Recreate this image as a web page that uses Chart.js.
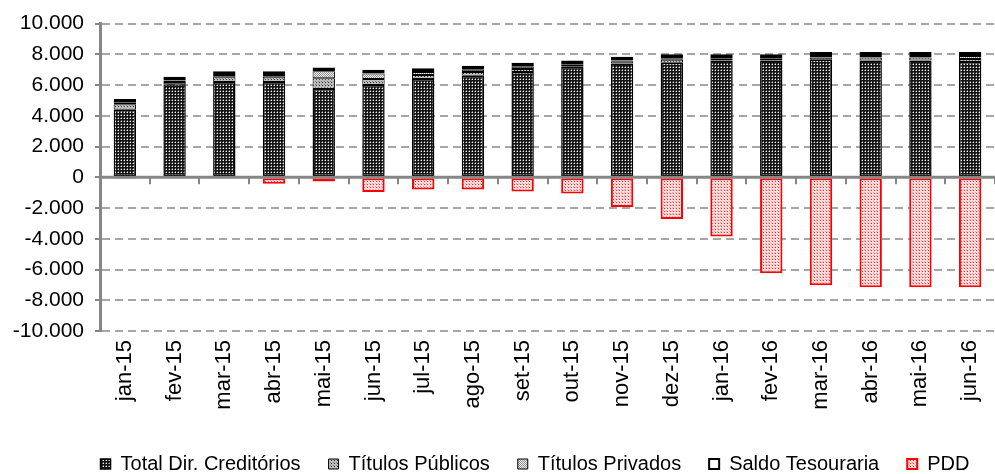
<!DOCTYPE html>
<html>
<head>
<meta charset="utf-8">
<script src="https://cdn.jsdelivr.net/npm/chart.js@4/dist/chart.umd.min.js"></script>
<style>
  html, body { margin: 0; padding: 0; background: #fff; }
  canvas { display: block; }
</style>
</head>
<body>
<canvas id="chart" width="995" height="474"></canvas>
<script>
// ---- Data (R$ mil) ----
const months = ['jan-15', 'fev-15', 'mar-15', 'abr-15', 'mai-15', 'jun-15', 'jul-15', 'ago-15', 'set-15',
  'out-15', 'nov-15', 'dez-15', 'jan-16', 'fev-16', 'mar-16', 'abr-16', 'mai-16', 'jun-16'];

const totalDirCreditorios = [4400, 6050, 6200, 6200, 5750, 6000, 6400, 6600, 6850, 7200, 7400, 7450, 7600, 7600, 7650, 7600, 7600, 7500];
const titulosPublicos     = [350, 150, 350, 350, 700, 400, 250, 250, 200, 100, 150, 200, 100, 100, 150, 200, 200, 200];
const titulosPrivados     = [100, 100, 100, 100, 450, 350, 200, 150, 150, 50, 50, 100, 50, 50, 100, 100, 100, 200];
const saldoTesouraria     = [250, 250, 250, 250, 250, 250, 250, 250, 250, 250, 250, 250, 250, 250, 250, 250, 250, 250];
const pdd                 = [-100, -80, -80, -420, -280, -950, -800, -800, -930, -1050, -1930, -2720, -3850, -6250, -7030, -7150, -7150, -7150];

const yTicks = { min: -10000, max: 10000, step: 2000 };

const FONT = "'Liberation Sans', Arial, sans-serif";

// ---- Fill patterns ----
function makePattern(size, bg, dots) {
  const c = document.createElement('canvas');
  c.width = size;
  c.height = size;
  const g = c.getContext('2d');
  g.fillStyle = bg;
  g.fillRect(0, 0, size, size);
  dots.forEach(([x, y, col]) => {
    g.fillStyle = col;
    g.fillRect(x, y, 1, 1);
  });
  return g.createPattern(c, 'repeat');
}

const patDark = makePattern(3, '#151515', [[1, 1, '#f0f0f0'], [1, 0, '#6a6a6a'], [0, 1, '#6a6a6a']]);
const patPublicos = makePattern(3, '#bdbdbd', [[1, 1, '#333'], [0, 0, '#7a7a7a']]);
const patPrivados = makePattern(2, '#f4f4f4', [[0, 0, '#8c8c8c'], [1, 1, '#8c8c8c']]);
const patPdd = makePattern(3, '#ffdcdc', [[1, 1, '#ff2020'], [0, 0, '#ff9a9a']]);

function fmt(v) {
  const s = String(Math.abs(v)).replace(/\B(?=(\d{3})+(?!\d))/g, '.');
  return (v < 0 ? '-' : '') + s;
}

// ---- Zero axis line with category tick marks ----
const zeroAxis = {
  id: 'zeroAxis',
  afterDatasetsDraw(chart) {
    const { ctx, chartArea: a, scales: { x, y } } = chart;
    const y0 = y.getPixelForValue(0);
    const half = (x.getPixelForValue(1) - x.getPixelForValue(0)) / 2;
    ctx.save();
    ctx.strokeStyle = '#868686';
    ctx.lineWidth = 3;
    ctx.beginPath();
    ctx.moveTo(a.left, y0);
    ctx.lineTo(a.right, y0);
    ctx.stroke();
    ctx.lineWidth = 2;
    for (let i = 0; i < months.length; i++) {
      const px = Math.round(x.getPixelForValue(i) + half);
      ctx.beginPath();
      ctx.moveTo(px, y0);
      ctx.lineTo(px, y0 + 7);
      ctx.stroke();
    }
    ctx.restore();
  },
};

// ---- Legend size / position tweak ----
const legendFit = {
  id: 'legendFit',
  beforeInit(chart) {
    const fit = chart.legend.fit;
    chart.legend.fit = function () {
      fit.call(this);
      this.height = 48;
    };
  },
  afterLayout(chart) {
    chart.legend.left += 34;
    chart.legend.right += 34;
  },
};

const barCommon = {
  borderSkipped: false,
  categoryPercentage: 1,
  barPercentage: 0.45,
};

new Chart(document.getElementById('chart'), {
  type: 'bar',
  data: {
    labels: months,
    datasets: [
      { ...barCommon, label: 'Total Dir. Creditórios', data: totalDirCreditorios, backgroundColor: patDark, borderColor: '#000', borderWidth: 1.5 },
      { ...barCommon, label: 'Títulos Públicos', data: titulosPublicos, backgroundColor: patPublicos, borderColor: '#000', borderWidth: 1 },
      { ...barCommon, label: 'Títulos Privados', data: titulosPrivados, backgroundColor: patPrivados, borderColor: '#000', borderWidth: 1 },
      { ...barCommon, label: 'Saldo Tesouraria', data: saldoTesouraria, backgroundColor: '#fff', borderColor: '#000', borderWidth: 2 },
      { ...barCommon, label: 'PDD', data: pdd, backgroundColor: patPdd, borderColor: '#ff0000', borderWidth: 2 },
    ],
  },
  options: {
    responsive: false,
    animation: false,
    layout: { padding: { top: 22, right: -7, bottom: 0, left: 0 } },
    plugins: {
      legend: {
        position: 'bottom',
        labels: {
          color: '#000',
          font: { family: FONT, size: 20 },
          boxWidth: 10,
          boxHeight: 10,
          padding: 28,
        },
      },
      tooltip: { enabled: false },
    },
    scales: {
      x: {
        stacked: true,
        grid: { display: false, drawTicks: false },
        border: { display: false },
        ticks: {
          color: '#000',
          font: { family: FONT, size: 22 },
          minRotation: 90,
          maxRotation: 90,
          autoSkip: false,
          padding: 9,
        },
        afterFit(scale) {
          scale.height = 95;
          scale.paddingLeft = 0;
          scale.paddingRight = 0;
        },
      },
      y: {
        stacked: true,
        min: yTicks.min,
        max: yTicks.max,
        grid: {
          color: (ctx) => (ctx.tick && ctx.tick.value === 0 ? 'rgba(0,0,0,0)' : '#a6a6a6'),
          lineWidth: 2,
          drawTicks: true,
          tickLength: 5,
          tickColor: '#868686',
          tickWidth: 2,
        },
        border: { display: true, color: '#868686', width: 3, dash: [8, 5] },
        ticks: {
          stepSize: yTicks.step,
          color: '#000',
          font: { family: FONT, size: 21 },
          padding: 11,
          callback: (v) => fmt(v),
        },
        afterFit(scale) { scale.width = 100; },
      },
    },
  },
  plugins: [zeroAxis, legendFit],
});
</script>
</body>
</html>
